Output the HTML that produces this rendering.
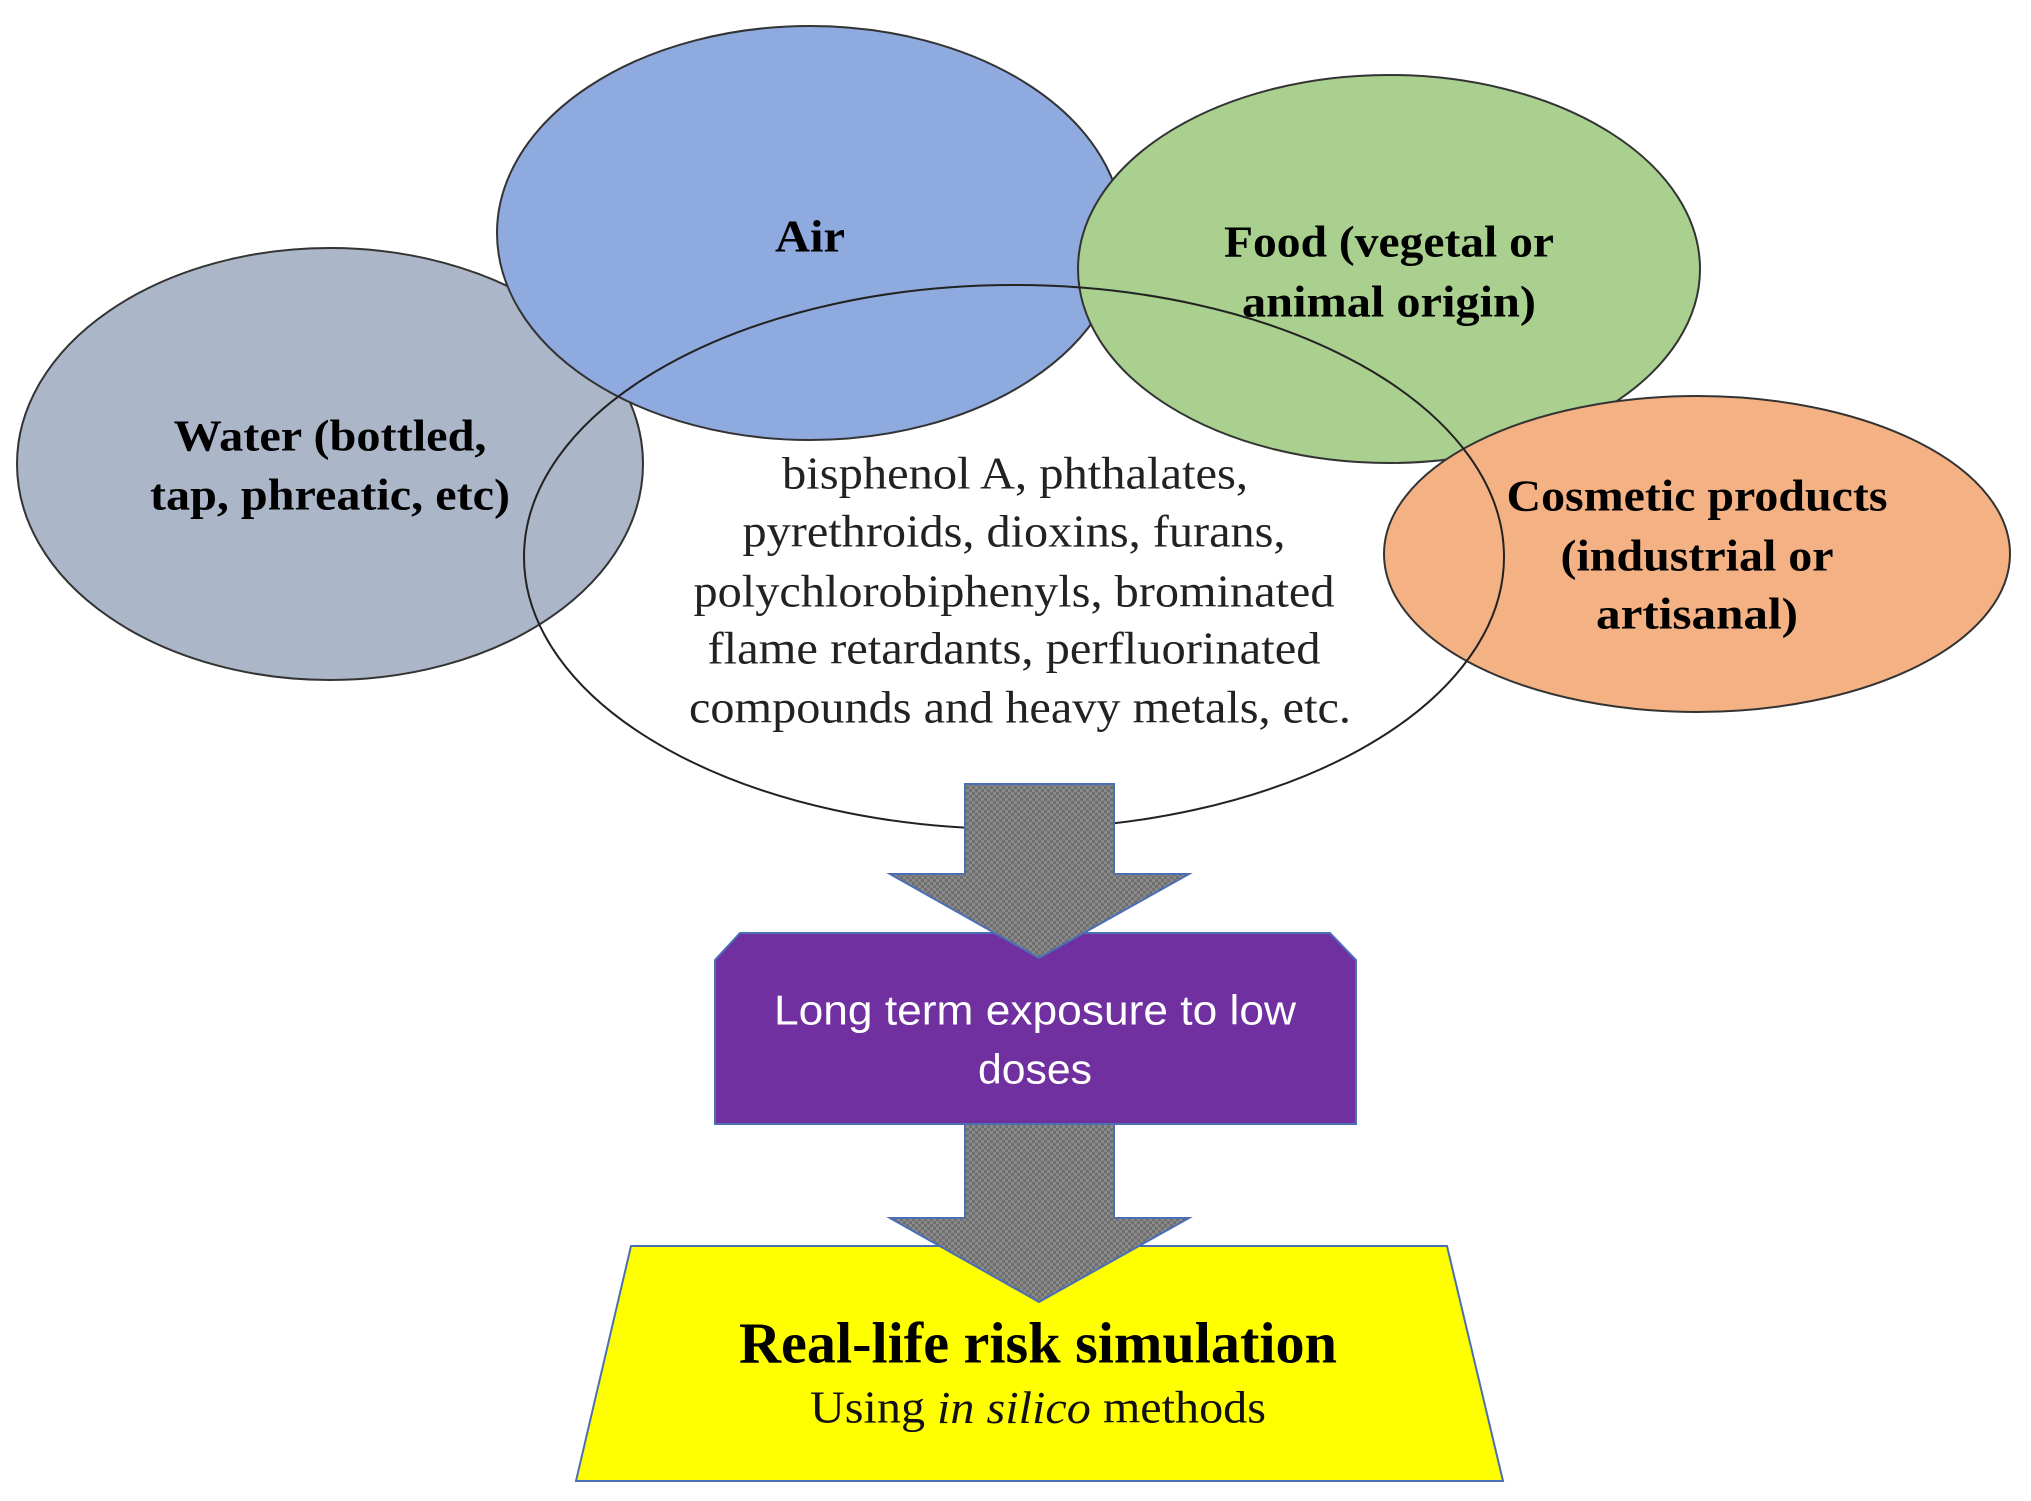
<!DOCTYPE html>
<html><head><meta charset="utf-8"><style>
html,body{margin:0;padding:0;background:#fff;}
svg{display:block;}
.b{font-family:"Liberation Serif",serif;font-weight:bold;fill:#000;}
.r{font-family:"Liberation Serif",serif;fill:#222;}
.s{font-family:"Liberation Sans",sans-serif;fill:#fff;}
</style></head><body>
<svg width="2031" height="1501" viewBox="0 0 2031 1501" xmlns="http://www.w3.org/2000/svg">
<defs>
<pattern id="p" width="6" height="6" patternUnits="userSpaceOnUse">
<rect width="6" height="6" fill="#8a8a8a"/>
<rect width="3" height="3" fill="#6f6f6f"/><rect x="3" y="3" width="3" height="3" fill="#6f6f6f"/>
</pattern>
</defs>
<ellipse cx="330" cy="464" rx="313" ry="216" fill="#abb7c9" stroke="#333" stroke-width="2"/>
<ellipse cx="810" cy="233" rx="313" ry="207" fill="#8eaadf" stroke="#333" stroke-width="2"/>
<ellipse cx="1389" cy="269" rx="311" ry="194" fill="#a9d08e" stroke="#333" stroke-width="2"/>
<ellipse cx="1697" cy="554" rx="313" ry="158" fill="#f4b183" stroke="#333" stroke-width="2"/>
<ellipse cx="1014" cy="557" rx="490" ry="272" fill="none" stroke="#222" stroke-width="2"/>

<text class="b" x="810" y="236" font-size="46" text-anchor="middle" dominant-baseline="central" textLength="70" lengthAdjust="spacingAndGlyphs">Air</text>
<text class="b" x="1389" y="242" font-size="44" text-anchor="middle" dominant-baseline="central" textLength="330" lengthAdjust="spacingAndGlyphs">Food (vegetal or</text>
<text class="b" x="1389" y="302" font-size="44" text-anchor="middle" dominant-baseline="central" textLength="294" lengthAdjust="spacingAndGlyphs">animal origin)</text>
<text class="b" x="330" y="436" font-size="44" text-anchor="middle" dominant-baseline="central" textLength="313" lengthAdjust="spacingAndGlyphs">Water (bottled,</text>
<text class="b" x="330" y="495" font-size="44" text-anchor="middle" dominant-baseline="central" textLength="360" lengthAdjust="spacingAndGlyphs">tap, phreatic, etc)</text>
<text class="b" x="1697" y="496" font-size="44" text-anchor="middle" dominant-baseline="central" textLength="381" lengthAdjust="spacingAndGlyphs">Cosmetic products</text>
<text class="b" x="1697" y="556" font-size="44" text-anchor="middle" dominant-baseline="central" textLength="273" lengthAdjust="spacingAndGlyphs">(industrial or</text>
<text class="b" x="1697" y="614" font-size="44" text-anchor="middle" dominant-baseline="central" textLength="202" lengthAdjust="spacingAndGlyphs">artisanal)</text>

<g class="r" font-size="46" text-anchor="middle" dominant-baseline="central">
<text x="1015" y="473" textLength="466" lengthAdjust="spacingAndGlyphs">bisphenol A, phthalates,</text>
<text x="1014" y="531" textLength="543" lengthAdjust="spacingAndGlyphs">pyrethroids, dioxins, furans,</text>
<text x="1014" y="591" textLength="641" lengthAdjust="spacingAndGlyphs">polychlorobiphenyls, brominated</text>
<text x="1014" y="648" textLength="613" lengthAdjust="spacingAndGlyphs">flame retardants, perfluorinated</text>
<text x="1020" y="707" textLength="662" lengthAdjust="spacingAndGlyphs">compounds and heavy metals, etc.</text>
</g>

<polygon points="631,1246 1447,1246 1503,1481 576,1481" fill="#ffff00" stroke="#4a6fb5" stroke-width="2"/>
<polygon points="740,933 1330,933 1356,960 1356,1124 715,1124 715,960" fill="#7030a0" stroke="#4a6fb5" stroke-width="2"/>

<polygon points="965,784 1114,784 1114,874 1189,874 1039,958 890,874 965,874" fill="url(#p)" stroke="#4a6fb5" stroke-width="2"/>
<polygon points="965,1124 1114,1124 1114,1218 1189,1218 1039,1302 890,1218 965,1218" fill="url(#p)" stroke="#4a6fb5" stroke-width="2"/>

<text class="s" x="1035" y="1010" font-size="42" text-anchor="middle" dominant-baseline="central" textLength="522" lengthAdjust="spacingAndGlyphs">Long term exposure to low</text>
<text class="s" x="1035" y="1069" font-size="42" text-anchor="middle" dominant-baseline="central" textLength="114" lengthAdjust="spacingAndGlyphs">doses</text>

<text class="b" x="1038" y="1343" font-size="58" text-anchor="middle" dominant-baseline="central" textLength="598" lengthAdjust="spacingAndGlyphs">Real-life risk simulation</text>
<text class="r" x="1038" y="1407" font-size="46" text-anchor="middle" dominant-baseline="central" textLength="456" lengthAdjust="spacingAndGlyphs" style="fill:#111">Using <tspan font-style="italic">in silico</tspan> methods</text>
</svg>
</body></html>
